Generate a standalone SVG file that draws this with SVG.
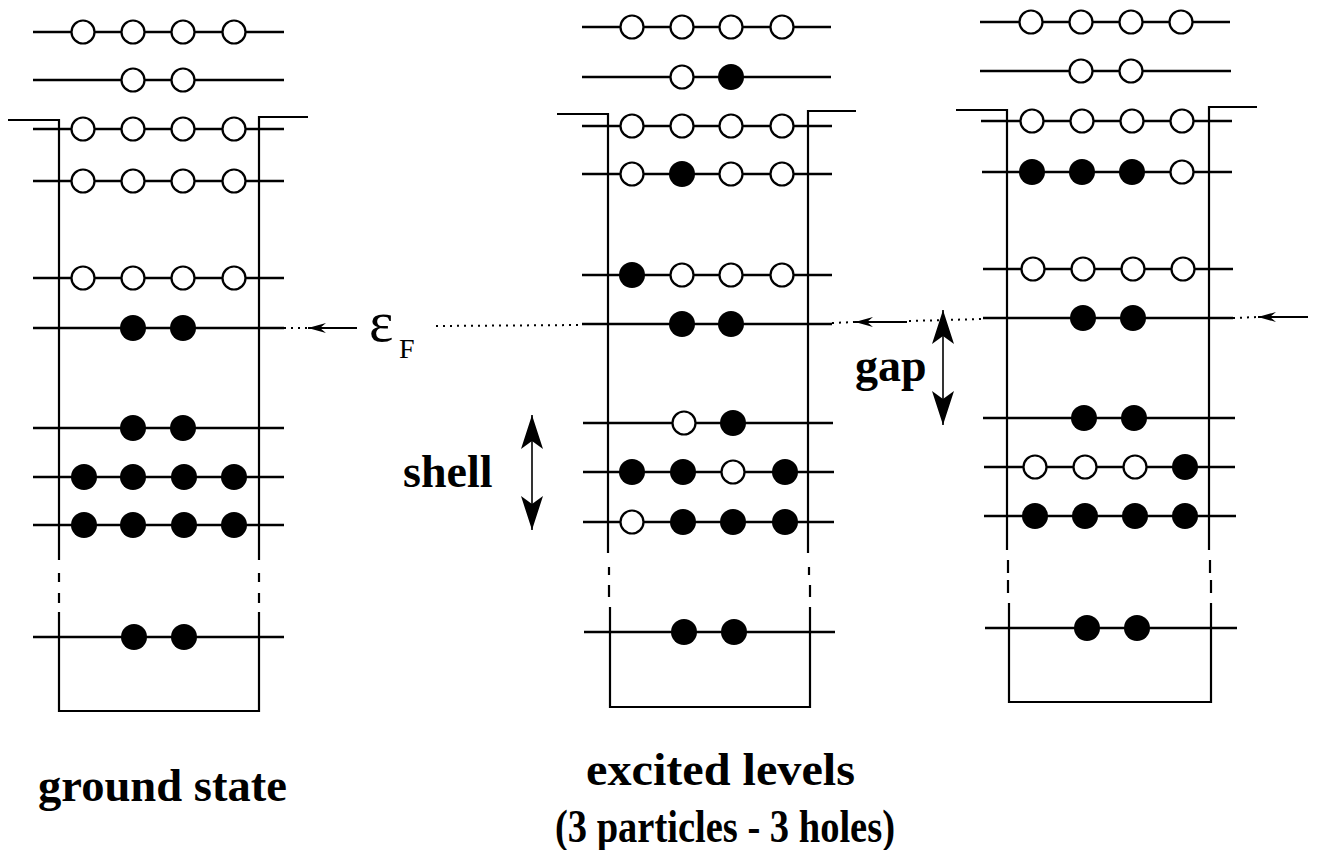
<svg xmlns="http://www.w3.org/2000/svg" width="1317" height="850" viewBox="0 0 1317 850">
<style>
.bg{fill:#fff}
.lvl{stroke:#000;stroke-width:2.5;fill:none}
.wall{stroke:#000;stroke-width:2.2;fill:none}
.o{fill:#fff;stroke:#000;stroke-width:2.2}
.f{fill:#000}
.dot{stroke:#000;stroke-width:2;stroke-dasharray:2 5;fill:none}
.ar{stroke:#000;stroke-width:2;fill:none}
.shaft{stroke:#000;stroke-width:1.6;fill:none}
.lbl{font-family:"Liberation Serif","Times New Roman",serif;font-weight:bold;font-size:46px;fill:#000}
.sym{font-family:"Liberation Serif","Times New Roman",serif;fill:#000}
</style>
<defs>
<marker id="sm" markerUnits="userSpaceOnUse" viewBox="0 0 18 10" refX="18" refY="5" markerWidth="18" markerHeight="10" orient="auto-start-reverse">
<path d="M0,0 L18,5 L0,10 L6,5 Z" fill="#000"/>
</marker>
<marker id="big" markerUnits="userSpaceOnUse" viewBox="0 0 34 22" refX="34" refY="11" markerWidth="34" markerHeight="22" orient="auto-start-reverse">
<path d="M0,0 L34,11 L0,22 L8,11 Z" fill="#000"/>
</marker>
</defs>
<rect class="bg" x="0" y="0" width="1317" height="850"/>

<g id="ground">
<path class="wall" d="M8,120 H59 V560 M59,573 V582 M59,593 V603 M59,612 V711 H259 V612 M259,603 V593 M259,582 V573 M259,560 V117 H308"/>
<g class="lvl">
<line x1="33" y1="32" x2="284" y2="32"/>
<line x1="33" y1="80" x2="284" y2="80"/>
<line x1="33" y1="129" x2="284" y2="129"/>
<line x1="33" y1="181" x2="284" y2="181"/>
<line x1="33" y1="278" x2="284" y2="278"/>
<line x1="33" y1="328" x2="284" y2="328"/>
<line x1="33" y1="428" x2="284" y2="428"/>
<line x1="33" y1="477" x2="284" y2="477"/>
<line x1="33" y1="525" x2="284" y2="525"/>
<line x1="33" y1="637" x2="284" y2="637"/>
</g>
<circle class="o" cx="83" cy="32" r="11.5"/><circle class="o" cx="133" cy="32" r="11.5"/><circle class="o" cx="183" cy="32" r="11.5"/><circle class="o" cx="234" cy="32" r="11.5"/>
<circle class="o" cx="133" cy="80" r="11.5"/><circle class="o" cx="183" cy="80" r="11.5"/>
<circle class="o" cx="83" cy="129" r="11.5"/><circle class="o" cx="133" cy="129" r="11.5"/><circle class="o" cx="183" cy="129" r="11.5"/><circle class="o" cx="234" cy="129" r="11.5"/>
<circle class="o" cx="83" cy="181" r="11.5"/><circle class="o" cx="133" cy="181" r="11.5"/><circle class="o" cx="183" cy="181" r="11.5"/><circle class="o" cx="234" cy="181" r="11.5"/>
<circle class="o" cx="83" cy="278" r="11.5"/><circle class="o" cx="133" cy="278" r="11.5"/><circle class="o" cx="183" cy="278" r="11.5"/><circle class="o" cx="234" cy="278" r="11.5"/>
<circle class="f" cx="133" cy="328" r="13"/><circle class="f" cx="183" cy="328" r="13"/>
<circle class="f" cx="133" cy="428" r="13"/><circle class="f" cx="183" cy="428" r="13"/>
<circle class="f" cx="84" cy="477" r="13"/><circle class="f" cx="133" cy="477" r="13"/><circle class="f" cx="184" cy="477" r="13"/><circle class="f" cx="234" cy="477" r="13"/>
<circle class="f" cx="84" cy="525" r="13"/><circle class="f" cx="133" cy="525" r="13"/><circle class="f" cx="184" cy="525" r="13"/><circle class="f" cx="234" cy="525" r="13"/>
<circle class="f" cx="134" cy="637" r="13"/><circle class="f" cx="184" cy="637" r="13"/>
<text class="lbl" x="38" y="801" textLength="249" lengthAdjust="spacingAndGlyphs">ground state</text>
</g>

<g id="excited1">
<path class="wall" d="M557,114 H608 V553 M609,567 V575 M609,585 V597 M610,607 V707 H810 V607 M810,597 V585 M809,575 V567 M808,553 V111 H856"/>
<g class="lvl">
<line x1="582" y1="27" x2="831" y2="27"/>
<line x1="582" y1="77" x2="831" y2="77"/>
<line x1="582" y1="126" x2="832" y2="126"/>
<line x1="582" y1="174" x2="832" y2="174"/>
<line x1="582" y1="275" x2="832" y2="275"/>
<line x1="582" y1="324" x2="832" y2="324"/>
<line x1="583" y1="423" x2="833" y2="423"/>
<line x1="583" y1="472" x2="834" y2="472"/>
<line x1="583" y1="522" x2="834" y2="522"/>
<line x1="584" y1="632" x2="835" y2="632"/>
</g>
<circle class="o" cx="632" cy="27" r="11.5"/><circle class="o" cx="682" cy="27" r="11.5"/><circle class="o" cx="731" cy="27" r="11.5"/><circle class="o" cx="782" cy="27" r="11.5"/>
<circle class="o" cx="682" cy="77" r="11.5"/><circle class="f" cx="731" cy="77" r="13"/>
<circle class="o" cx="632" cy="126" r="11.5"/><circle class="o" cx="682" cy="126" r="11.5"/><circle class="o" cx="731" cy="126" r="11.5"/><circle class="o" cx="782" cy="126" r="11.5"/>
<circle class="o" cx="632" cy="174" r="11.5"/><circle class="f" cx="682" cy="174" r="13"/><circle class="o" cx="731" cy="174" r="11.5"/><circle class="o" cx="782" cy="174" r="11.5"/>
<circle class="f" cx="632" cy="275" r="13"/><circle class="o" cx="682" cy="275" r="11.5"/><circle class="o" cx="731" cy="275" r="11.5"/><circle class="o" cx="782" cy="275" r="11.5"/>
<circle class="f" cx="682" cy="324" r="13"/><circle class="f" cx="731" cy="324" r="13"/>
<circle class="o" cx="684" cy="423" r="11.5"/><circle class="f" cx="733" cy="423" r="13"/>
<circle class="f" cx="632" cy="472" r="13"/><circle class="f" cx="683" cy="472" r="13"/><circle class="o" cx="733" cy="472" r="11.5"/><circle class="f" cx="785" cy="472" r="13"/>
<circle class="o" cx="632" cy="522" r="11.5"/><circle class="f" cx="683" cy="522" r="13"/><circle class="f" cx="733" cy="522" r="13"/><circle class="f" cx="785" cy="522" r="13"/>
<circle class="f" cx="684" cy="632" r="13"/><circle class="f" cx="734" cy="632" r="13"/>
</g>

<g id="excited2">
<path class="wall" d="M956,110 H1007 V550 M1008,560 V573 M1008,580 V593 M1009,603 V702 H1211 V603 M1211,593 V580 M1210,573 V560 M1209,550 V107 H1257"/>
<g class="lvl">
<line x1="980" y1="22" x2="1230" y2="22"/>
<line x1="980" y1="71" x2="1231" y2="71"/>
<line x1="981" y1="121" x2="1232" y2="121"/>
<line x1="982" y1="172" x2="1232" y2="172"/>
<line x1="983" y1="269" x2="1233" y2="269"/>
<line x1="983" y1="318" x2="1233" y2="318"/>
<line x1="983" y1="418" x2="1235" y2="418"/>
<line x1="984" y1="467" x2="1235" y2="467"/>
<line x1="984" y1="516" x2="1236" y2="516"/>
<line x1="985" y1="628" x2="1237" y2="628"/>
</g>
<circle class="o" cx="1031" cy="22" r="11.5"/><circle class="o" cx="1081" cy="22" r="11.5"/><circle class="o" cx="1131" cy="22" r="11.5"/><circle class="o" cx="1181" cy="22" r="11.5"/>
<circle class="o" cx="1081" cy="71" r="11.5"/><circle class="o" cx="1131" cy="71" r="11.5"/>
<circle class="o" cx="1032" cy="121" r="11.5"/><circle class="o" cx="1082" cy="121" r="11.5"/><circle class="o" cx="1132" cy="121" r="11.5"/><circle class="o" cx="1182" cy="121" r="11.5"/>
<circle class="f" cx="1032" cy="172" r="13"/><circle class="f" cx="1082" cy="172" r="13"/><circle class="f" cx="1132" cy="172" r="13"/><circle class="o" cx="1182" cy="172" r="11.5"/>
<circle class="o" cx="1033" cy="269" r="11.5"/><circle class="o" cx="1083" cy="269" r="11.5"/><circle class="o" cx="1133" cy="269" r="11.5"/><circle class="o" cx="1183" cy="269" r="11.5"/>
<circle class="f" cx="1083" cy="318" r="13"/><circle class="f" cx="1133" cy="318" r="13"/>
<circle class="f" cx="1084" cy="418" r="13"/><circle class="f" cx="1134" cy="418" r="13"/>
<circle class="o" cx="1035" cy="467" r="11.5"/><circle class="o" cx="1085" cy="467" r="11.5"/><circle class="o" cx="1135" cy="467" r="11.5"/><circle class="f" cx="1185" cy="467" r="13"/>
<circle class="f" cx="1035" cy="516" r="13"/><circle class="f" cx="1085" cy="516" r="13"/><circle class="f" cx="1135" cy="516" r="13"/><circle class="f" cx="1185" cy="516" r="13"/>
<circle class="f" cx="1087" cy="628" r="13"/><circle class="f" cx="1137" cy="628" r="13"/>
</g>

<g id="labels">
<text class="lbl" x="586" y="785" textLength="269" lengthAdjust="spacingAndGlyphs">excited levels</text>
<text class="lbl" x="555" y="842" textLength="340" lengthAdjust="spacingAndGlyphs">(3 particles - 3 holes)</text>
<text class="sym" x="369" y="341" font-size="58">ε</text>
<text class="sym" x="399" y="358" font-size="28">F</text>
<text class="lbl" x="403" y="487">shell</text>
<text class="lbl" x="855" y="381">gap</text>
</g>

<g id="connectors">
<line class="dot" x1="284" y1="328" x2="308" y2="328"/>
<line class="ar" x1="357" y1="328" x2="308" y2="328" marker-end="url(#sm)"/>
<line class="dot" x1="436" y1="326" x2="582" y2="325"/>
<line class="dot" x1="832" y1="323" x2="855" y2="322"/>
<line class="ar" x1="907" y1="322" x2="855" y2="322" marker-end="url(#sm)"/>
<line class="dot" x1="909" y1="321" x2="983" y2="319"/>
<line class="dot" x1="1233" y1="318" x2="1258" y2="317"/>
<line class="ar" x1="1308" y1="317" x2="1258" y2="317" marker-end="url(#sm)"/>
<line class="shaft" x1="532" y1="415" x2="532" y2="530" marker-start="url(#big)" marker-end="url(#big)"/>
<line class="shaft" x1="943" y1="310" x2="943" y2="425" marker-start="url(#big)" marker-end="url(#big)"/>
</g>
</svg>
